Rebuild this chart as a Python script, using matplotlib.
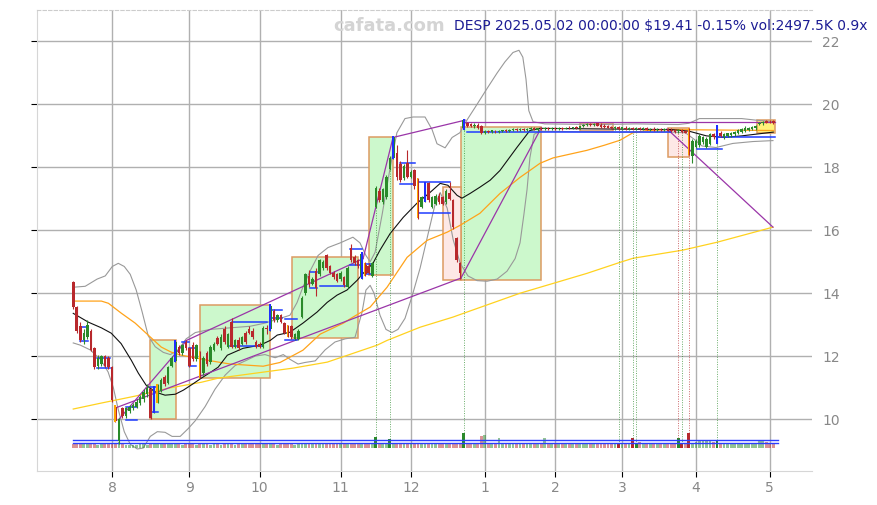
import numpy as np
import matplotlib
matplotlib.use("Agg")
import matplotlib.pyplot as plt
from matplotlib.patches import Rectangle

# daily bars, index 0 = 2024-07-17 ... index 199 = 2025-05-02
opens = [14.35, 13.55, 12.95, 12.50, 12.60, 12.80, 12.25, 11.70, 11.75, 12.00,
         11.95, 11.65, 10.40, 9.30, 10.35, 10.10, 10.25, 10.35, 10.40, 10.50,
         10.65, 10.80, 10.95, 10.25, 10.55, 10.90, 11.35, 11.15, 11.70, 11.85,
         12.30, 12.10, 12.45, 12.25, 12.35, 11.90, 12.10, 11.45, 12.10, 11.80,
         12.20, 12.57, 12.25, 12.85, 12.30, 13.08, 12.30, 12.50, 12.40, 12.75,
         12.85, 12.80, 12.45, 12.40, 12.30, 12.90, 12.85, 13.45, 13.15, 13.30,
         13.05, 12.95, 12.95, 12.55, 12.55, 13.25, 14.00, 14.55, 14.30, 14.70,
         14.60, 14.80, 15.20, 14.85, 14.65, 14.60, 14.45, 14.50, 14.20, 15.45,
         15.15, 15.05, 14.50, 14.90, 14.85, 14.55, 16.75, 17.25, 16.90, 17.05,
         17.95, 18.30, 18.45, 18.10, 17.65, 18.15, 17.70, 17.90, 17.60, 16.75,
         16.95, 17.50, 16.75, 16.85, 17.10, 17.05, 16.90, 17.20, 16.95, 15.75,
         14.95, 19.25, 19.40, 19.38, 19.30, 19.36, 19.30, 19.10, 19.14, 19.12,
         19.16, 19.13, 19.15, 19.18, 19.14, 19.18, 19.22, 19.18, 19.22, 19.19,
         19.22, 19.26, 19.20, 19.24, 19.22, 19.24, 19.22, 19.25, 19.22, 19.25,
         19.23, 19.26, 19.24, 19.27, 19.25, 19.30, 19.36, 19.38, 19.34, 19.40,
         19.36, 19.32, 19.30, 19.28, 19.25, 19.27, 19.22, 19.26, 19.22, 19.25,
         19.21, 19.25, 19.21, 19.24, 19.20, 19.23, 19.19, 19.22, 19.18, 19.21,
         19.20, 19.18, 19.16, 19.18, 19.15, 19.20, 18.35, 18.65, 18.70, 18.80,
         18.65, 18.75, 19.05, 18.80, 19.10, 18.95, 19.00, 19.02, 19.05, 19.08,
         19.12, 19.15, 19.20, 19.22, 19.25, 19.38, 19.40, 19.48, 19.45, 19.46]
highs = [14.40, 13.60, 13.10, 12.85, 13.15, 12.85, 12.30, 12.05, 12.05, 12.05,
         12.00, 11.70, 10.45, 10.05, 10.40, 10.40, 10.45, 10.50, 10.65, 10.75,
         10.95, 11.10, 11.00, 11.05, 11.10, 11.30, 11.40, 11.70, 12.00, 12.50,
         12.35, 12.40, 12.50, 12.30, 12.45, 12.40, 12.15, 12.00, 12.15, 12.35,
         12.45, 12.65, 12.70, 12.95, 12.75, 13.20, 12.55, 12.60, 12.65, 12.80,
         12.95, 12.90, 12.50, 12.45, 12.95, 13.00, 13.65, 13.50, 13.35, 13.35,
         13.10, 13.00, 13.00, 12.75, 12.85, 13.90, 14.65, 14.75, 14.50, 14.80,
         15.10, 15.05, 15.25, 14.90, 14.70, 14.65, 14.70, 14.55, 14.85, 15.55,
         15.20, 15.10, 15.30, 15.00, 14.95, 15.00, 17.40, 17.35, 17.35, 17.75,
         18.35, 19.00, 18.70, 18.20, 18.10, 18.55, 17.90, 17.95, 17.65, 17.10,
         17.55, 17.55, 17.10, 17.15, 17.20, 17.10, 17.30, 17.55, 17.00, 15.80,
         15.00, 19.55, 19.45, 19.42, 19.40, 19.40, 19.33, 19.20, 19.18, 19.20,
         19.20, 19.19, 19.20, 19.22, 19.22, 19.24, 19.26, 19.25, 19.26, 19.25,
         19.27, 19.28, 19.26, 19.28, 19.27, 19.28, 19.28, 19.29, 19.27, 19.28,
         19.28, 19.30, 19.29, 19.31, 19.32, 19.38, 19.40, 19.42, 19.40, 19.42,
         19.40, 19.38, 19.36, 19.32, 19.30, 19.31, 19.29, 19.30, 19.28, 19.29,
         19.27, 19.28, 19.27, 19.28, 19.26, 19.27, 19.25, 19.26, 19.24, 19.25,
         19.24, 19.22, 19.22, 19.22, 19.20, 19.25, 18.90, 18.90, 19.05, 19.00,
         18.95, 19.10, 19.10, 19.35, 19.15, 19.10, 19.10, 19.12, 19.15, 19.22,
         19.25, 19.30, 19.28, 19.30, 19.35, 19.45, 19.48, 19.52, 19.50, 19.50]
lows = [13.50, 12.75, 12.45, 12.40, 12.55, 12.15, 11.60, 11.60, 11.70, 11.65,
        11.60, 10.55, 9.90, 9.20, 10.05, 10.05, 10.20, 10.30, 10.35, 10.45,
        10.55, 10.70, 10.00, 10.20, 10.50, 10.85, 11.05, 11.10, 11.65, 11.80,
        12.05, 12.05, 12.20, 11.65, 11.85, 11.85, 11.30, 11.40, 11.70, 11.75,
        12.15, 12.35, 12.20, 12.40, 12.25, 12.25, 12.25, 12.20, 12.35, 12.40,
        12.70, 12.55, 12.25, 12.25, 12.25, 12.70, 12.80, 13.10, 13.10, 13.05,
        12.70, 12.60, 12.55, 12.50, 12.50, 13.20, 13.95, 14.20, 14.25, 13.90,
        14.55, 14.75, 14.75, 14.60, 14.45, 14.35, 14.40, 14.20, 14.15, 15.00,
        14.90, 14.80, 14.45, 14.55, 14.60, 14.50, 16.70, 16.90, 16.85, 17.00,
        17.90, 18.25, 17.60, 17.55, 17.60, 17.65, 17.65, 17.30, 16.35, 16.70,
        16.90, 16.90, 16.70, 16.80, 16.85, 16.80, 16.85, 16.95, 16.05, 15.00,
        14.45, 19.20, 19.28, 19.28, 19.26, 19.22, 19.05, 19.06, 19.08, 19.10,
        19.10, 19.10, 19.12, 19.12, 19.12, 19.14, 19.15, 19.15, 19.16, 19.16,
        19.18, 19.18, 19.17, 19.20, 19.19, 19.20, 19.20, 19.20, 19.19, 19.20,
        19.21, 19.22, 19.22, 19.23, 19.23, 19.28, 19.30, 19.30, 19.31, 19.30,
        19.26, 19.25, 19.24, 19.22, 19.20, 19.20, 19.20, 19.20, 19.19, 19.19,
        19.18, 19.19, 19.18, 19.18, 19.17, 19.17, 19.16, 19.16, 19.15, 19.14,
        19.12, 19.10, 19.10, 19.10, 19.08, 18.38, 18.15, 18.60, 18.65, 18.75,
        18.60, 18.70, 18.90, 18.75, 18.95, 18.90, 18.95, 18.98, 19.00, 19.05,
        19.10, 19.12, 19.15, 19.18, 19.20, 19.33, 19.36, 19.40, 19.40, 19.38]
closes = [13.55, 12.80, 12.50, 12.75, 13.00, 12.20, 11.65, 11.95, 12.00, 11.70,
          11.65, 10.60, 9.95, 10.00, 10.10, 10.35, 10.40, 10.45, 10.55, 10.70,
          10.85, 11.00, 10.05, 11.00, 11.05, 11.25, 11.10, 11.65, 11.95, 12.45,
          12.10, 12.35, 12.25, 11.70, 11.90, 12.35, 11.35, 11.95, 11.75, 12.30,
          12.40, 12.40, 12.60, 12.45, 12.70, 12.28, 12.50, 12.25, 12.60, 12.45,
          12.75, 12.60, 12.30, 12.30, 12.90, 12.85, 13.60, 13.15, 13.30, 13.10,
          12.75, 12.65, 12.60, 12.70, 12.80, 13.85, 14.60, 14.30, 14.45, 14.15,
          15.05, 15.00, 14.80, 14.65, 14.50, 14.40, 14.65, 14.25, 14.80, 15.05,
          14.95, 14.85, 15.25, 14.60, 14.65, 14.95, 17.35, 16.95, 17.30, 17.70,
          18.30, 18.95, 17.70, 17.60, 18.05, 17.70, 17.85, 17.40, 16.45, 17.05,
          17.50, 16.95, 17.05, 17.10, 16.90, 16.85, 17.25, 17.00, 16.10, 15.05,
          14.65, 19.50, 19.30, 19.32, 19.36, 19.25, 19.10, 19.16, 19.12, 19.18,
          19.14, 19.17, 19.18, 19.14, 19.20, 19.22, 19.18, 19.23, 19.19, 19.23,
          19.25, 19.20, 19.24, 19.22, 19.25, 19.22, 19.26, 19.22, 19.25, 19.23,
          19.26, 19.24, 19.27, 19.25, 19.30, 19.36, 19.38, 19.33, 19.38, 19.32,
          19.28, 19.27, 19.26, 19.24, 19.27, 19.22, 19.27, 19.22, 19.25, 19.21,
          19.25, 19.21, 19.24, 19.20, 19.23, 19.19, 19.22, 19.18, 19.21, 19.16,
          19.14, 19.12, 19.18, 19.12, 19.10, 18.45, 18.85, 18.85, 19.00, 18.95,
          18.90, 19.05, 18.95, 19.30, 19.00, 19.05, 19.08, 19.10, 19.12, 19.20,
          19.22, 19.25, 19.25, 19.27, 19.30, 19.42, 19.45, 19.42, 19.44, 19.41]
volumes = [2100, 2300, 2000, 1800, 1900, 2200, 2300, 1700, 1800, 2000,
           2100, 2400, 2600, 2800, 2000, 1600, 1700, 1600, 1700, 1800,
           1900, 1700, 2300, 2200, 2000, 1800, 2000, 1900, 1800, 2200,
           1800, 1700, 1900, 2100, 2000, 1700, 2200, 1800, 1900, 1700,
           1800, 2000, 1700, 1900, 1800, 2300, 1700, 1900, 1800, 2000,
           1900, 2100, 2000, 1900, 1800, 1900, 2400, 2100, 1700, 2000,
           2100, 2000, 1900, 1700, 1800, 2300, 2200, 2000, 1800, 2100,
           1900, 1800, 2100, 2000, 1900, 2000, 1800, 2000, 1900, 2100,
           2000, 1900, 2200, 2000, 1900, 1800, 5600, 2100, 1800, 2000,
           4300, 2600, 2300, 2000, 1800, 2100, 1900, 2000, 2300, 1800,
           2000, 2100, 1800, 1900, 2000, 2100, 1900, 2000, 2300, 2500,
           2600, 7500, 2400, 2300, 2100, 2200, 6200, 6500, 2300, 2100,
           2000, 5000, 2200, 2000, 2100, 1900, 2000, 2300, 2100, 1900,
           2000, 2100, 2000, 1900, 5000, 2200, 2000, 2100, 1900, 2000,
           2200, 2100, 2000, 1900, 2100, 2300, 2000, 2400, 2100, 2000,
           2300, 2200, 2000, 2100, 1900, 2200, 2400, 2000, 2100, 5000,
           2000, 2900, 2100, 2000, 2300, 2100, 1900, 2200, 2000, 2100,
           2000, 2600, 5000, 2200, 2300, 7500, 2200, 2800, 3800, 3600,
           3800, 3500, 3000, 3800, 2400, 2200, 2000, 2100, 1900, 2200,
           2000, 2100, 2300, 2000, 2200, 3800, 3600, 2900, 2600, 2500]
blue_bars = [23, 29, 56, 82, 91, 100, 111, 183]
orange_bars = [12, 24, 36, 61, 83, 98, 175]
signal_days = [(86, "g"), (90, "g"), (111, "g"), (155, "g"), (159, "g"), (160, "g"),
               (172, "r"), (173, "g"), (175, "r"), (183, "g")]

# moving averages / bands: (bar index, price)
ma_short = [(0, 13.36), (4.3, 13.08), (8, 12.9), (10.8, 12.73), (13.6, 12.4), (16.5, 11.87),
            (18.5, 11.46), (20.7, 11.08), (23.3, 10.86), (26.1, 10.76), (29, 10.79), (31.3, 10.92),
            (33.5, 11.08), (36.4, 11.3), (39.2, 11.5), (41.2, 11.65), (43.8, 12.03), (48.3, 12.25),
            (53.1, 12.35), (56, 12.5), (58, 12.67), (61.6, 12.76), (65.3, 13.05), (69.3, 13.4),
            (72.2, 13.71), (75, 13.94), (77.8, 14.1), (80.7, 14.41), (82.4, 14.63), (85.2, 14.95),
            (87.2, 15.37), (90.1, 15.9), (93.8, 16.41), (97.7, 16.86), (101.4, 17.2), (104.3, 17.49),
            (106.5, 17.43), (109.1, 17.11), (110.5, 17.02), (112.8, 17.17), (115.6, 17.37),
            (118.5, 17.59), (121.3, 17.9), (126.1, 18.63), (129.8, 19.17), (132.7, 19.24),
            (150, 19.22), (170, 19.2), (175, 19.15), (180, 19.0), (185, 18.95), (190, 19.0), (199, 19.12)]
ma_mid = [(0, 13.75), (8, 13.75), (10, 13.68), (13.6, 13.37), (17.6, 13.05), (21.3, 12.67),
          (25, 12.29), (27.8, 12.13), (30.7, 12.03), (34.7, 11.95), (38.1, 11.87), (44.6, 11.75),
          (54, 11.68), (58.8, 11.8), (65.3, 12.19), (70.2, 12.7), (76.8, 13.05), (79.5, 13.24),
          (84.4, 13.56), (89.2, 14.19), (94.9, 15.14), (100.6, 15.68), (106.3, 15.94), (110, 16.16),
          (115.6, 16.54), (121.3, 17.17), (127, 17.68), (132.7, 18.13), (136.4, 18.3), (146, 18.54),
          (150.9, 18.7), (155.4, 18.86), (159.1, 19.1), (163, 19.17), (170, 19.2), (199, 19.17)]
ma_long = [(0, 10.32), (8, 10.51), (17.6, 10.73), (27, 10.98), (36.4, 11.17), (41.2, 11.3),
           (62.5, 11.62), (72.2, 11.81), (86.4, 12.35), (89.2, 12.5), (98.6, 12.92), (107.9, 13.24),
           (111.9, 13.4), (127, 14.0), (146, 14.63), (155.4, 14.98), (159.1, 15.11), (173.3, 15.37),
           (183, 15.62), (192.3, 15.9), (198.9, 16.1)]
band_up = [(0, 14.19), (3.4, 14.22), (6.8, 14.45), (9.1, 14.55), (11.1, 14.85), (12.8, 14.95),
           (14.5, 14.85), (16.2, 14.6), (17.9, 14.1), (19.6, 13.4), (21.3, 12.65), (23.3, 12.3),
           (25.6, 12.12), (27.6, 12.05), (29.8, 12.2), (32.1, 12.55), (34.7, 12.75), (38.9, 12.85),
           (44.6, 12.9), (50.3, 12.95), (54.5, 13.05), (58.8, 13.2), (61.6, 13.3), (63.6, 13.7),
           (65.3, 14.2), (67.3, 14.7), (69.6, 15.2), (72.4, 15.45), (75.9, 15.6), (79.5, 15.78),
           (81.5, 15.6), (83.2, 15.2), (84.4, 15.0), (85.8, 15.3), (87.8, 16.5), (90.1, 18.0),
           (92, 19.1), (94.3, 19.55), (96.6, 19.6), (100, 19.6), (102, 19.2), (103.4, 18.75),
           (105.7, 18.62), (107.7, 18.95), (109.9, 19.1), (111.9, 19.5), (114.2, 19.9), (117.6, 20.5),
           (120.5, 21.0), (122.7, 21.35), (125, 21.65), (126.7, 21.72), (127.8, 21.5), (128.7, 20.8),
           (129.5, 19.8), (130.7, 19.45), (134, 19.38), (150, 19.36), (160, 19.38), (172, 19.36),
           (175, 19.4), (178, 19.55), (190, 19.55), (194, 19.5), (199, 19.45)]
band_low = [(0, 12.42), (2, 12.35), (4.8, 12.2), (7.7, 11.9), (9.9, 11.5), (11.4, 11.0), (12.8, 10.3),
            (14.5, 9.6), (16.2, 9.2), (18.2, 9.05), (19.9, 9.08), (21.9, 9.45), (23.9, 9.6),
            (26.1, 9.58), (28.1, 9.45), (30.4, 9.45), (32.7, 9.7), (34.7, 9.95), (37.5, 10.4),
            (40.3, 10.95), (43.2, 11.4), (46, 11.7), (48.9, 11.85), (51.7, 12.0), (54.5, 12.05),
            (57.4, 11.95), (59.7, 12.05), (61.6, 11.9), (63.9, 11.75), (65.9, 11.8), (68.8, 11.85),
            (71.6, 12.2), (74.4, 12.45), (77.3, 12.55), (80.1, 12.6), (82.1, 13.4), (83.2, 14.1),
            (84.4, 14.25), (85.5, 14.0), (87.2, 13.3), (88.9, 12.85), (90.6, 12.75), (92.3, 12.85),
            (94.3, 13.2), (96.3, 13.9), (98.6, 14.8), (100.9, 15.9), (102.8, 16.8), (104.3, 17.2),
            (106.3, 16.7), (108, 15.7), (110, 14.95), (112.2, 14.55), (114.8, 14.4), (117.6, 14.38),
            (120.5, 14.45), (123.3, 14.7), (125.6, 15.1), (127, 15.6), (128.1, 16.5), (129, 17.3),
            (129.8, 18.3), (131, 19.05), (132.7, 19.15), (150, 19.12), (170, 19.12), (174, 19.1),
            (176.4, 18.9), (178.7, 18.68), (182.7, 18.63), (187.5, 18.76), (193.2, 18.82), (198.9, 18.85)]

# zones: (start idx, end idx, low, high)
green_zones = [(21.9, 29.3, 10.0, 12.5), (36.1, 56.0, 11.3, 13.62), (62.2, 81.0, 12.57, 15.14),
               (84.1, 90.9, 14.57, 18.95), (110.2, 133.0, 14.42, 19.27)]
red_zones = [(105.1, 110.2, 14.42, 17.37), (169.0, 175.0, 18.32, 19.24), (144.0, 153.4, 19.15, 19.4)]
yellow_zones = [(194.3, 199.4, 19.08, 19.5)]

# short support / resistance stubs: (start idx, end idx, price)
levels = [(2, 4.3, 12.92), (2, 4.3, 12.48), (6.8, 10.5, 11.94), (6.8, 10.5, 11.62),
          (15, 18, 10.38), (15, 18, 9.97), (21.9, 24.1, 11.02), (21.9, 24.1, 10.22),
          (31, 33, 12.44), (33, 35, 12.25), (33, 35, 11.68), (44.6, 54, 12.32), (45.2, 55.1, 13.08),
          (56.5, 59.4, 13.46), (56.5, 59.4, 13.2), (60.2, 63.6, 12.5), (60.2, 63.6, 13.17),
          (67.3, 69.3, 14.67), (67.3, 69.3, 14.16), (70.2, 78.1, 14.22), (78.7, 82.1, 15.4),
          (78.7, 82.1, 14.9), (83, 85.2, 14.92), (83, 85.2, 14.6), (92.9, 97.2, 18.13),
          (92.9, 97.2, 17.46), (98, 107.1, 17.52), (98, 107.1, 16.54), (112, 170, 19.11),
          (177.3, 184.4, 18.57), (183, 199.4, 18.98)]

# trend lines: (idx0, price0, idx1, price1)
trend_lines = [(12.8, 9.97, 31.8, 12.44), (31.8, 12.48, 82.4, 15.1), (82.4, 15.1, 90.9, 18.95),
               (11.9, 10.35, 110.2, 14.48), (90.9, 18.95, 111.4, 19.5), (111.4, 19.44, 199.4, 19.44),
               (110.2, 14.48, 133.0, 19.25), (168.8, 19.22, 198.9, 16.1)]

month_pos = [11, 33, 53, 76, 96, 117, 137, 156, 177, 198]
month_lbl = ["8", "9", "10", "11", "12", "1", "2", "3", "4", "5"]

title = "DESP 2025.05.02 00:00:00 $19.41 -0.15% vol:2497.5K 0.9x"

RED = "#b8282c"
GREEN = "#2a8a2a"

fig = plt.figure(figsize=(8.77, 5.05), dpi=100)
ax = fig.add_axes([0.0422, 0.0673, 0.8837, 0.9129])

idx = np.arange(len(closes))
o = np.array(opens); c = np.array(closes); h = np.array(highs); l = np.array(lows)

for x0, x1, lo, hi in green_zones:
    ax.add_patch(Rectangle((x0, lo), x1 - x0, hi - lo, facecolor="#ccf8cc", edgecolor="#dc9b62", lw=1.1, zorder=1))
for x0, x1, lo, hi in red_zones:
    ax.add_patch(Rectangle((x0, lo), x1 - x0, hi - lo, facecolor="#fde8e6", edgecolor="#dc9b62", lw=1.1, zorder=1))
for x0, x1, lo, hi in yellow_zones:
    ax.add_patch(Rectangle((x0, lo), x1 - x0, hi - lo, facecolor="#fff27a", edgecolor="#dc9b62", lw=1.1, zorder=1))

# bands and averages
for pts, col, lw in [(band_up, "#999999", 0.8), (band_low, "#999999", 0.8),
                     (ma_long, "#ffd21f", 0.9), (ma_mid, "#ffa31a", 0.9), (ma_short, "#111111", 0.8)]:
    xs, ys = zip(*pts)
    ax.plot(xs, ys, color=col, lw=lw, zorder=2)

for x0, y0, x1, y1 in trend_lines:
    ax.plot([x0, x1], [y0, y1], color="#9a35a8", lw=0.9, zorder=3)

for x0, x1, p in levels:
    ax.plot([x0, x1], [p, p], color="#1f3cff", lw=1.1, zorder=3)

# volume at the foot of the chart
vbase = 9.08
vscale = 0.16 / 2500
vol = np.array(volumes)
sig_idx = [s[0] for s in signal_days]
for i in idx:
    col = GREEN if c[i] >= o[i] else RED
    a = 1.0 if i in sig_idx else 0.5
    ax.bar(i, vol[i] * vscale, 0.8, bottom=vbase, color=col, alpha=a, lw=0, zorder=2)
ax.plot([0, 200.3], [9.33, 9.33], color="#2a3cff", lw=1.0, zorder=3)
ax.plot([0, 200.3], [9.24, 9.24], color="#2a3cff", lw=1.0, zorder=3)

for i, cc in signal_days:
    ax.vlines(i, vbase + vol[i] * vscale, l[i], colors=GREEN if cc == "g" else RED,
              linestyles=(0, (1, 1.5)), lw=0.7, alpha=0.7, zorder=2)

# candles
up = c >= o
ax.vlines(idx, l, h, colors=np.where(up, GREEN, RED), lw=0.8, zorder=4)
ax.bar(idx[up], (c - o)[up], 0.72, bottom=o[up], color=GREEN, lw=0, zorder=5)
ax.bar(idx[~up], (o - c)[~up], 0.72, bottom=c[~up], color=RED, lw=0, zorder=5)
for i in blue_bars:
    ax.bar(i, max(h[i], o[i], c[i]) - min(l[i], o[i], c[i]), 0.55, bottom=min(l[i], o[i], c[i]),
           color="#1f2fff", lw=0, zorder=6)
for i in orange_bars:
    ax.bar(i - 0.15, abs(c[i] - o[i]) + 0.1, 0.45, bottom=min(o[i], c[i]) - 0.05,
           color="#ffa500", lw=0, zorder=6)

ax.set_xlim(-10.3, 210)
ax.set_ylim(8.35, 23.0)
ax.set_xticks(month_pos)
ax.set_xticklabels(month_lbl)
ax.set_yticks([10, 12, 14, 16, 18, 20, 22])
ax.grid(True, color="#b0b0b0", lw=1.0, zorder=0)
ax.set_axisbelow(True)
ax.tick_params(axis="x", colors="black", labelcolor="#888888", labelsize=10, length=4)
ax.tick_params(axis="y", left=True, right=False, labelleft=False, labelright=True,
               labelcolor="#888888", labelsize=10, length=4)
for s in ["left", "bottom"]:
    ax.spines[s].set_color("#d6d6d6")
ax.spines["right"].set_visible(False)
ax.spines["top"].set_color("#cccccc")
ax.spines["top"].set_linestyle((0, (3, 2)))

fig.text(0.444, 0.948, "cafata.com", color="#d4d4d4", fontsize=13, fontweight="bold", ha="center", va="center")
fig.text(0.989, 0.948, title, color="#1c1c94", fontsize=10, ha="right", va="center")

plt.savefig("out.png", dpi=100)
